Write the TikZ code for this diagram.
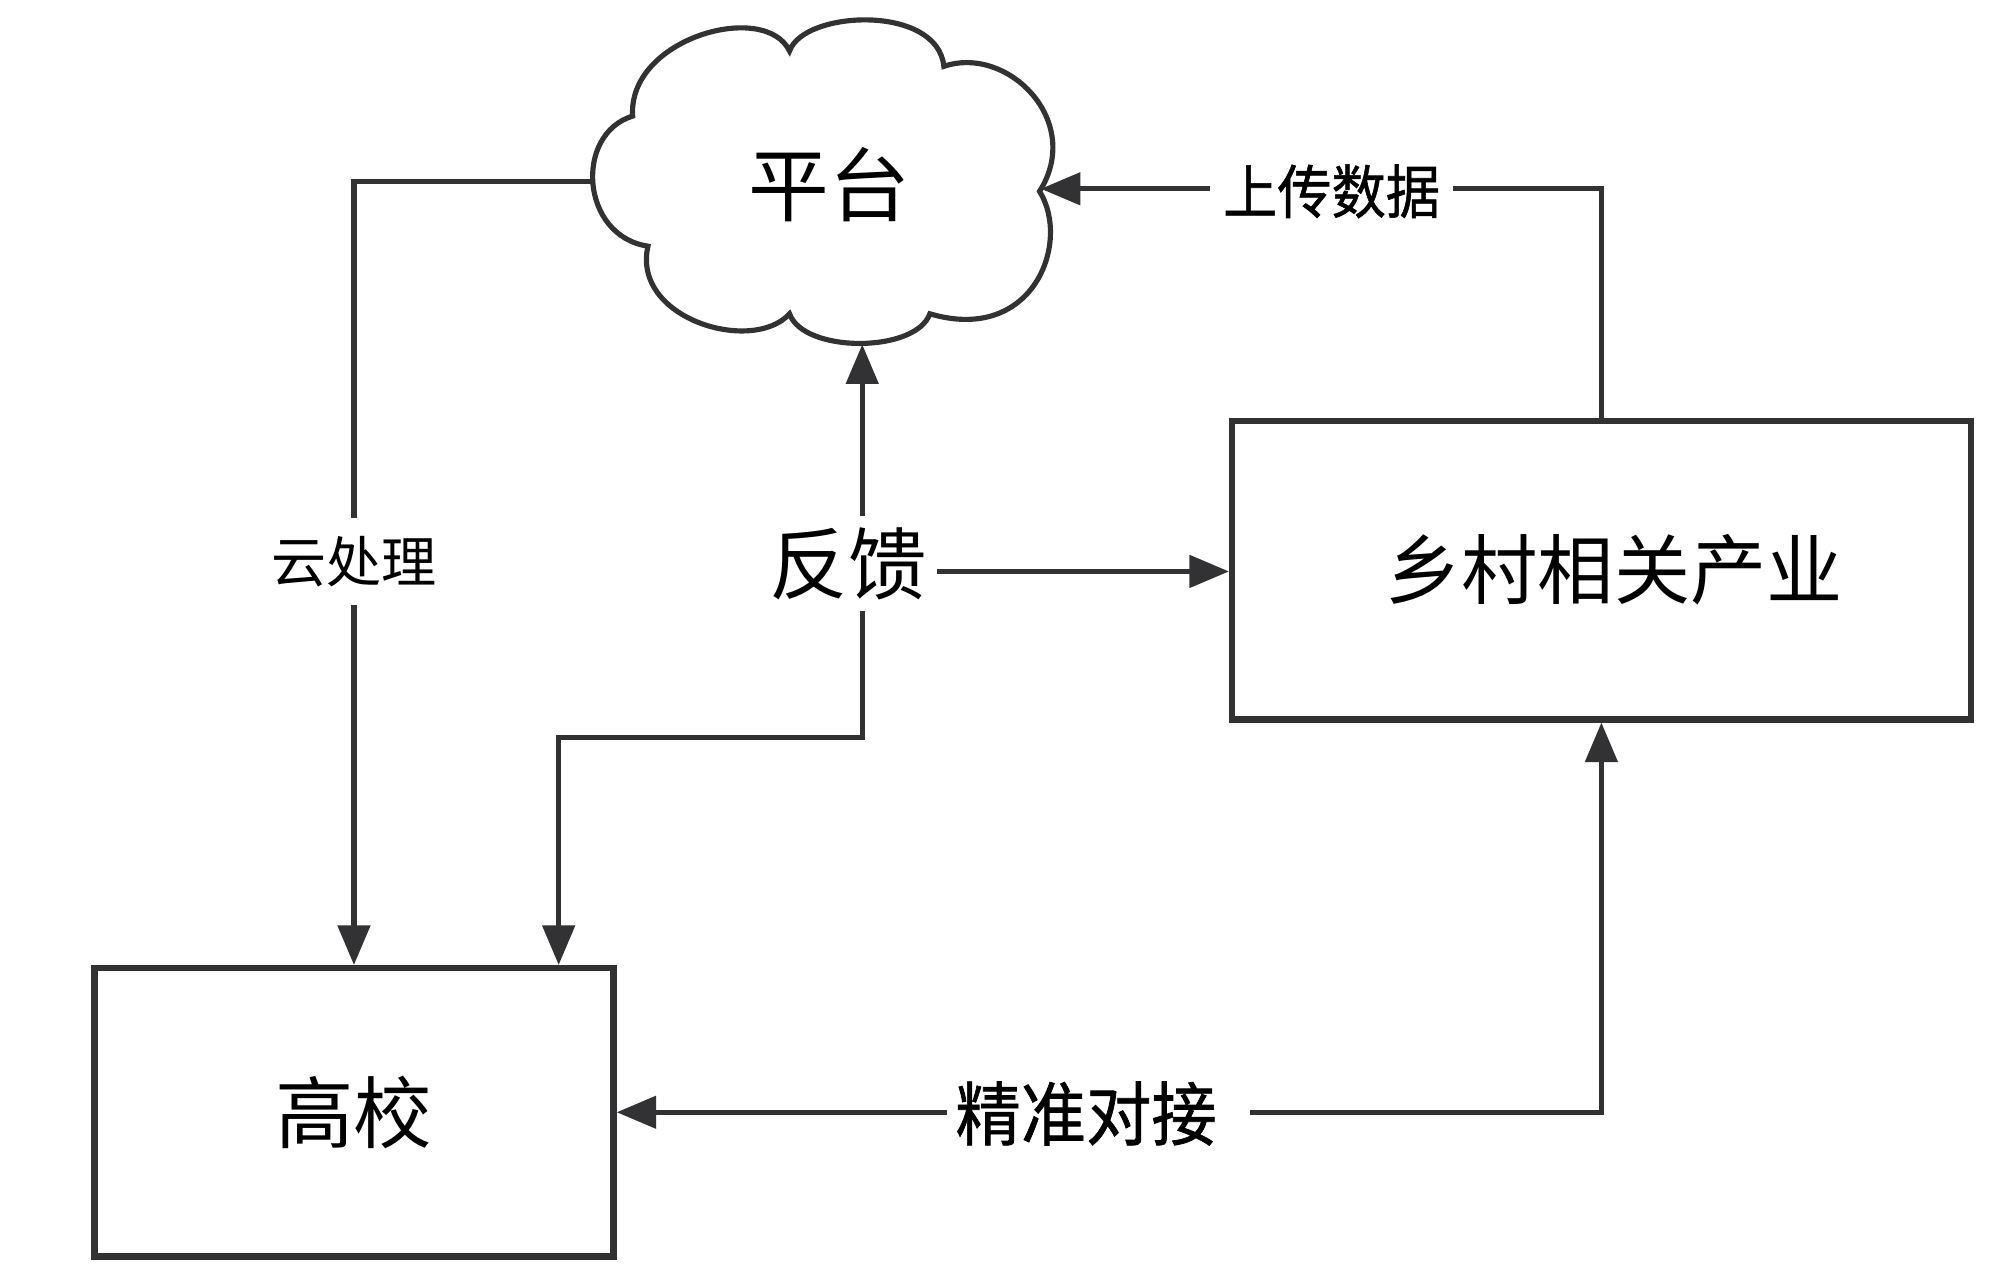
\documentclass[tikz,border=0pt]{standalone}
\usepackage{fontspec}
\setmainfont{Noto Sans CJK SC}
\newfontfamily\semib{Noto Sans CJK SC}[FakeBold=1]
\usetikzlibrary{arrows.meta}
\definecolor{lc}{RGB}{50,50,53}
\begin{document}
\begin{tikzpicture}[x=0.1mm,y=-0.1mm,
  line/.style={draw=lc, line width=1.15pt},
  arr/.style={line, -{Triangle[length=3.1mm,width=2.5mm]}},
  dbl/.style={line, {Triangle[length=3.1mm,width=2.5mm]}-{Triangle[length=3.1mm,width=2.5mm]}},
  box/.style={draw=lc, line width=1.4pt, fill=white},
  lab/.style={fill=white, inner xsep=3pt, inner ysep=2.5pt, text=black}]
\useasboundingbox (0,0) rectangle (1568,1006.7);
% cloud
\path[draw=lc, line width=1.15pt, fill=white] (496,91)
  .. controls (492,30) and (600,0) .. (619,40)
  .. controls (630,8) and (735,3) .. (740,52)
  .. controls (790,35) and (850,95) .. (815,150)
  .. controls (840,190) and (810,270) .. (729,246)
  .. controls (718,277) and (630,277) .. (619,246)
  .. controls (590,278) and (495,250) .. (508,193)
  .. controls (455,185) and (450,105) .. cycle;
\coordinate (cloudL) at (464,142);
\coordinate (cloudR) at (816,148);
\coordinate (cloudB) at (676,270);
\node (pt) at (650,145) {\fontsize{18pt}{18pt}\selectfont 平台};
% boxes
\node[box, minimum width=40.7mm, minimum height=22.6mm] (gx) at (277.5,872)
  {\fontsize{17.5pt}{17.5pt}\selectfont 高校};
\node[box, minimum width=57.9mm, minimum height=23.4mm] (xc) at (1255.5,447)
  {\hspace{2mm}\fontsize{17pt}{17pt}\selectfont 乡村相关产业};
% connectors
\coordinate (fkx) at (676,448);
\coordinate (bend) at (438,578);
\draw[arr] (cloudL) -| (gx.north);
\draw[arr] (fkx) -- (cloudB);
\draw[arr] (fkx) |- (bend) -- (bend |- gx.north);
\draw[arr] (xc.north) |- (cloudR);
\draw[dbl] (gx.east) -| (xc.south);
% labels
\node[lab, inner ysep=4pt] (yc) at (277.5,440) {\fontsize{12.3pt}{12.3pt}\selectfont 云处理};
\node[lab, inner xsep=2pt] (fk) at (665,442) {\fontsize{17.5pt}{17.5pt}\selectfont 反馈};
\draw[arr] (fk.east |- fkx) -- (xc.west |- fkx);
\node[lab] (sc) at (1044,150) {\fontsize{13pt}{13pt}\selectfont\semib\scalebox{0.93}[1]{上传数据}};
\node[lab, inner xsep=2pt] (jd) at (861,873) {\fontsize{15.5pt}{15.5pt}\selectfont\semib\scalebox{0.94}[1]{精准对接}\kern1.9mm};
\end{tikzpicture}
\end{document}
